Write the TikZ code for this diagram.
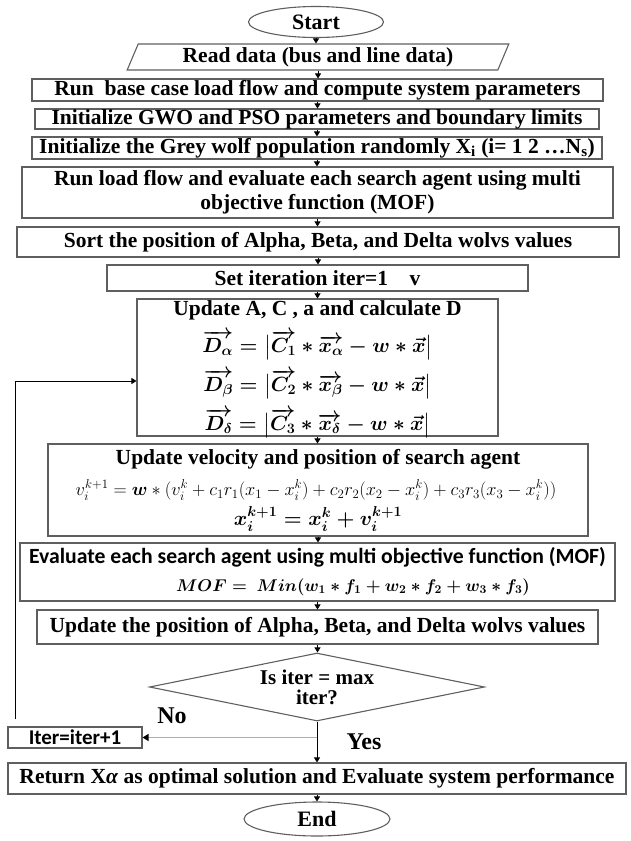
\documentclass[tikz,border=0pt]{standalone}
\usepackage{fix-cm}
\usepackage{amsmath, amssymb}
\usepackage{fontspec}
\setmainfont{Liberation Serif}
\newfontfamily\calfont{Carlito}
\usetikzlibrary{arrows.meta, shapes.geometric}
\definecolor{edgegray}{RGB}{95, 95, 95}
\definecolor{nogray}{RGB}{175, 175, 175}

\begin{document}
\begin{tikzpicture}[
    x=1pt, y=-1pt,
    box/.style={rectangle, draw=edgegray, line width=1.1pt,
                inner sep=0pt,
                font=\fontsize{21.5}{24}\selectfont\bfseries},
    term/.style={ellipse, draw=edgegray, line width=1.1pt,
                 inner sep=0pt,
                 font=\fontsize{22}{24}\selectfont\bfseries},
    io/.style={trapezium, trapezium left angle=67,
               trapezium right angle=113, trapezium stretches=true,
               draw=edgegray, line width=1.1pt, inner sep=0pt,
               font=\fontsize{21.5}{24}\selectfont\bfseries},
    dec/.style={diamond, aspect=4.9, draw=edgegray, line width=1.1pt,
                inner sep=0pt, align=center,
                font=\fontsize{21}{20}\selectfont\bfseries},
    txt/.style={inner sep=0pt,
                font=\fontsize{21.5}{24}\selectfont\bfseries},
    eq/.style={inner sep=0pt,
               font=\fontsize{20.5}{23}\selectfont\boldmath},
    flow/.style={-{Triangle[length=5pt, width=6pt]}, line width=0.8pt},
  ]
  \useasboundingbox (0,0) rectangle (630,841);

  % main column
  \node[term, minimum width=135pt, minimum height=31pt] (start)
      at (316,22) {Start};
  \node[io, minimum width=382pt, minimum height=26pt] (read)
      at (318,57) {Read data (bus and line data)};
  \node[box, minimum width=571pt, minimum height=22pt] (run)
      at (317.5,90) {Run\ \ base case load flow and compute system parameters};
  \node[box, minimum width=564pt, minimum height=20pt] (init)
      at (317,119) {Initialize GWO and PSO parameters and boundary limits};
  \node[box, minimum width=570pt, minimum height=22pt] (pop)
      at (317,148) {Initialize the Grey wolf population randomly
      X\textsubscript{i} (i= 1 2 \ldots N\textsubscript{s})};
  \node[box, minimum width=591pt, minimum height=51pt, align=center] (lf)
      at (317.5,192.5) {Run load flow and evaluate each search agent using multi\\
      objective function (MOF)};
  \node[box, minimum width=602pt, minimum height=30pt] (sort)
      at (318,242) {Sort the position of Alpha, Beta, and Delta wolvs values};
  \node[box, minimum width=421pt, minimum height=26pt] (setit)
      at (317.5,278) {Set iteration iter=1\quad v};

  % update A, C, a, D
  \node[box, minimum width=361pt, minimum height=137pt] (updA)
      at (317.5,367.5) {};
  \node[txt] (updAt) at (317.5,310) {Update A, C , a and calculate D};
  \node[eq] (dA) at (317.5,345)
      {$\overrightarrow{D_\alpha} = \bigl|\overrightarrow{C_1} * \overrightarrow{x_\alpha} - w * \vec{x}\bigr|$};
  \node[eq] (dB) at (317.5,384)
      {$\overrightarrow{D_\beta} = \bigl|\overrightarrow{C_2} * \overrightarrow{x_\beta} - w * \vec{x}\bigr|$};
  \node[eq] (dD) at (317.5,423)
      {$\overrightarrow{D_\delta} = \bigl|\overrightarrow{C_3} * \overrightarrow{x_\delta} - w * \vec{x}\bigr|$};

  % velocity and position
  \node[box, minimum width=540pt, minimum height=92pt] (updV)
      at (318,490) {};
  \node[txt] (updVt) at (318,459) {Update velocity and position of search agent};
  \node[eq, font=\fontsize{18.3}{21}\selectfont] (vel) at (316,490)
      {$v_i^{k+1} = \boldsymbol{w} * (v_i^k + c_1r_1(x_1 - x_i^k) + c_2r_2(x_2 - x_i^k) + c_3r_3(x_3 - x_i^k))$};
  \node[eq] (pos) at (318,519)
      {$x_i^{k+1} = x_i^k + v_i^{k+1}$};

  % evaluation
  \node[box, minimum width=595pt, minimum height=58pt] (eval)
      at (317.5,572) {};
  \node[txt, font=\fontsize{21.7}{24}\selectfont\calfont\bfseries] (evalt)
      at (317.5,557) {Evaluate each search agent using multi objective function (MOF)};
  \node[eq, font=\fontsize{17}{20}\selectfont\boldmath] (mof) at (353,587)
      {$MOF =\ Min(w_1 * f_1 + w_2 * f_2 + w_3 * f_3)$};

  \node[box, minimum width=561pt, minimum height=34pt] (updP)
      at (317.5,627) {Update the position of Alpha, Beta, and Delta wolvs values};
  \node[dec, minimum width=335pt, minimum height=68pt] (check)
      at (317,687) {Is iter = max\\iter?};
  \node[box, minimum width=134pt, minimum height=21pt,
        font=\fontsize{21}{22}\selectfont\calfont\bfseries] (iter)
      at (75,737.5) {Iter=iter+1};
  \node[box, minimum width=618pt, minimum height=31pt] (ret)
      at (317,778.5) {Return X\textit{α} as optimal solution and Evaluate system performance};
  \node[term, minimum width=146pt, minimum height=34pt] (stop)
      at (317,819) {End};

  \node[txt, font=\fontsize{24}{26}\selectfont\bfseries] (no) at (172,716) {No};
  \node[txt, font=\fontsize{24}{26}\selectfont\bfseries] (yes) at (364,742) {Yes};

  % arrows down the column
  \foreach \a/\b in {start/read, read/run, run/init, init/pop, pop/lf,
                     lf/sort, sort/setit, setit/updA, updA/updV,
                     updV/eval, eval/updP, updP/check, ret/stop}
    \draw[flow] (\a.south) -- (\a.south |- \b.north);
  \draw[flow] (check.south) -- (ret.north);
  \draw[flow, draw=nogray, line width=1.4pt,
        -{Triangle[length=6pt, width=7pt, black]}]
      (check.south |- iter.east) -- (iter.east);
  \draw[flow] ([xshift=8pt, yshift=7pt]iter.north west)
      |- ([yshift=-13.5pt]updA.west);
\end{tikzpicture}
\end{document}
